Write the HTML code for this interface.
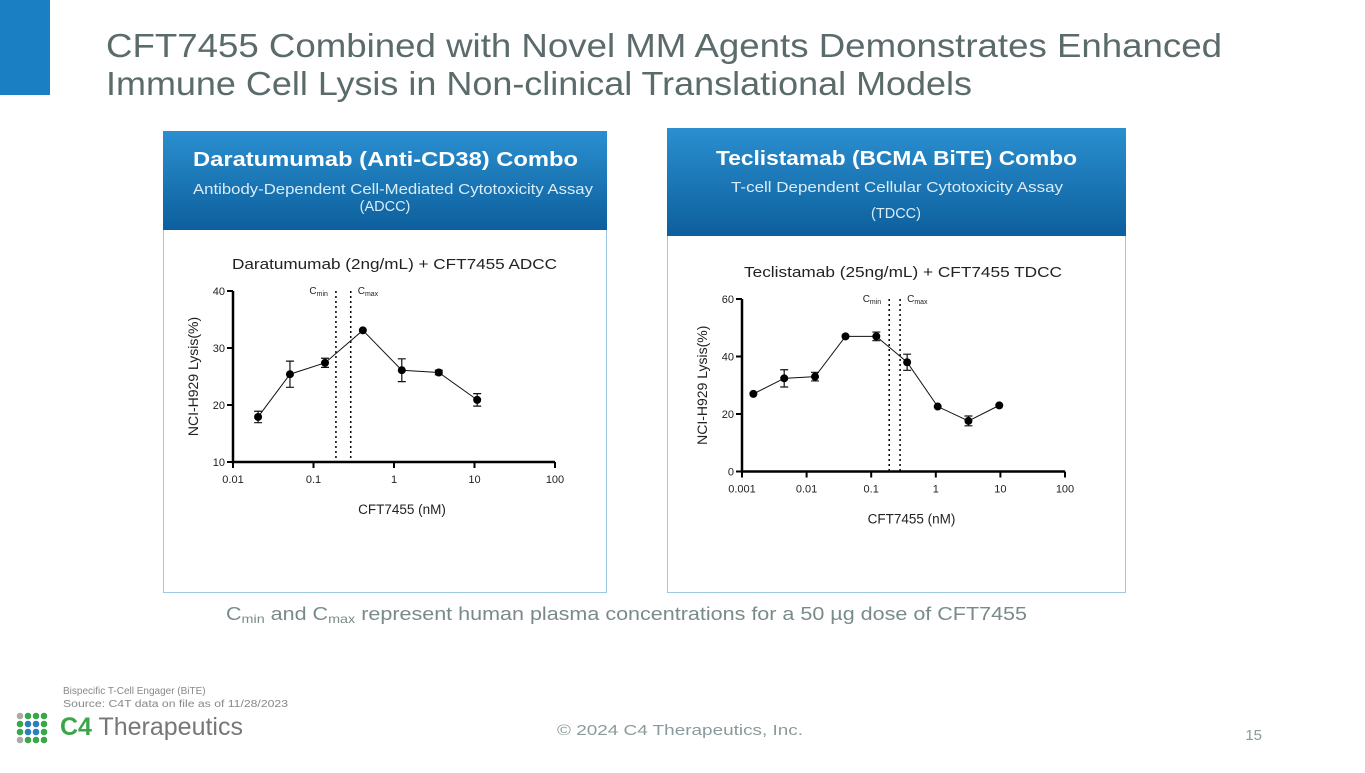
<!DOCTYPE html>
<html><head><meta charset="utf-8"><style>
body{margin:0;width:1365px;height:768px;overflow:hidden;background:#fff;font-family:"Liberation Sans",sans-serif;}
svg text{font-family:"Liberation Sans",sans-serif;}
</style></head><body>
<svg id="s" width="1365" height="768" xmlns="http://www.w3.org/2000/svg">
<defs>
<linearGradient id="hg" x1="0" y1="0" x2="0" y2="1"><stop offset="0" stop-color="#2a8fd0"/><stop offset="1" stop-color="#0d5f9c"/></linearGradient>
</defs>
<rect x="0" y="0" width="50" height="95" fill="#1b7fc4"/>
<text x="106" y="57" font-size="33" fill="#5b6b6b" textLength="1116" lengthAdjust="spacingAndGlyphs">CFT7455 Combined with Novel MM Agents Demonstrates Enhanced</text>
<text x="106" y="95" font-size="33" fill="#5b6b6b" textLength="866" lengthAdjust="spacingAndGlyphs">Immune Cell Lysis in Non-clinical Translational Models</text>

<g>
<rect x="163.5" y="131.5" width="443" height="461" fill="#fff" stroke="#9cc8e6"/>
<rect x="163" y="131" width="444" height="99" fill="url(#hg)"/>
<text x="193" y="166" font-size="20" font-weight="bold" fill="#fff" textLength="385" lengthAdjust="spacingAndGlyphs">Daratumumab (Anti-CD38) Combo</text>
<text x="193" y="194" font-size="14.5" fill="#d9ecf8" textLength="400" lengthAdjust="spacingAndGlyphs">Antibody-Dependent Cell-Mediated Cytotoxicity Assay</text>
<text x="385" y="211" font-size="14.5" fill="#d9ecf8" text-anchor="middle">(ADCC)</text>
</g>
<g>
<rect x="667.5" y="158.5" width="458" height="434" fill="#fff" stroke="#9cc8e6"/>
<rect x="667" y="128" width="459" height="108" fill="url(#hg)"/>
<text x="716" y="165" font-size="20" font-weight="bold" fill="#fff" textLength="361" lengthAdjust="spacingAndGlyphs">Teclistamab (BCMA BiTE) Combo</text>
<text x="731" y="192" font-size="14.5" fill="#d9ecf8" textLength="332" lengthAdjust="spacingAndGlyphs">T-cell Dependent Cellular Cytotoxicity Assay</text>
<text x="896" y="218" font-size="14.5" fill="#d9ecf8" text-anchor="middle">(TDCC)</text>
</g>

<g id="c1"></g>
<g id="c2"></g>

<text x="226" y="620" font-size="18" fill="#7a8a8a" textLength="801" lengthAdjust="spacingAndGlyphs">C<tspan font-size="12" dy="3">min</tspan><tspan dy="-3"> and C</tspan><tspan font-size="12" dy="3">max</tspan><tspan dy="-3"> represent human plasma concentrations for a 50 µg dose of CFT7455</tspan></text>
<text x="63" y="694" font-size="10" fill="#888">Bispecific T-Cell Engager (BiTE)</text>
<text x="63" y="707" font-size="10" fill="#888" textLength="225" lengthAdjust="spacingAndGlyphs">Source: C4T data on file as of 11/28/2023</text>
<g id="dots"></g>
<text x="60" y="735" font-size="25" fill="#777"><tspan fill="#3aa64a" font-weight="bold">C4</tspan> Therapeutics</text>
<text x="557" y="735" font-size="15" fill="#8a9a9a" textLength="246" lengthAdjust="spacingAndGlyphs">© 2024 C4 Therapeutics, Inc.</text>
<text x="1262" y="740" font-size="15" fill="#8a9a9a" text-anchor="end">15</text>
</svg>
<script>
const adccX=[0.0205,0.051,0.139,0.41,1.25,3.6,10.8];
const adccY=[17.9,25.4,27.4,33.1,26.1,25.7,20.9];
const adccErr=[1.0,2.3,0.8,0,2.0,0.4,1.1];
const adccXTicks=[0.01,0.1,1,10,100];
const adccYTicks=[10,20,30,40];
const adccC=[0.19,0.29];
const tdccX=[0.0015,0.0045,0.0135,0.04,0.12,0.36,1.07,3.2,9.6];
const tdccY=[27.0,32.4,33.0,47.0,47.0,38.0,22.6,17.6,23.0];
const tdccErr=[0,3,1.5,0,1.5,2.8,0,1.7,0];
const tdccXTicks=[0.001,0.01,0.1,1,10,100];
const tdccYTicks=[0,20,40,60];
const tdccC=[0.19,0.28];
const NS="http://www.w3.org/2000/svg";
function mk(p,t,a,txt){const e=document.createElementNS(NS,t);for(const k in a)e.setAttribute(k,a[k]);if(txt!==undefined)e.textContent=txt;p.appendChild(e);return e;}
function chart(id,o){
 const g=document.getElementById(id);
 const xs=v=>o.x0+(Math.log10(v)-Math.log10(o.xmin))/(Math.log10(o.xmax)-Math.log10(o.xmin))*(o.x1-o.x0);
 const ys=v=>o.yb-(v-o.ymin)/(o.ymax-o.ymin)*(o.yb-o.yt);
 let t=mk(g,'text',{x:o.tx,y:o.yt-22,'font-size':15,fill:'#222',textLength:o.tl,lengthAdjust:'spacingAndGlyphs'},o.title);
 
 
 let ax=mk(g,'path',{d:`M${o.x0},${o.yt}V${o.yb}H${o.x1}`,stroke:'#000','stroke-width':2.5,fill:'none'});
 
 
 o.yt_.forEach(v=>{const y=ys(v);mk(g,'line',{x1:o.x0-6,x2:o.x0,y1:y,y2:y,stroke:'#000','stroke-width':2});
  const l=mk(g,'text',{x:o.x0-8,y:y+4,'font-size':11,'text-anchor':'end',fill:'#222'},v);
  
  });
 o.xt.forEach(v=>{const x=xs(v);mk(g,'line',{x1:x,x2:x,y1:o.yb,y2:o.yb+6,stroke:'#000','stroke-width':2});
  const l=mk(g,'text',{x:x,y:o.yb+21,'font-size':11,'text-anchor':'middle',fill:'#222'},v);
  
  });
 let xl=mk(g,'text',{x:(o.x0+o.x1)/2+8,y:o.yb+52,'font-size':13.5,'text-anchor':'middle',fill:'#222'},'CFT7455 (nM)');
 
 
 const my=(o.yt+o.yb)/2;
 let yl=mk(g,'text',{x:o.x0-35,y:my,'font-size':14,'text-anchor':'middle',fill:'#222',transform:`rotate(-90 ${o.x0-35} ${my})`},'NCI-H929 Lysis(%)');
 
 
 o.c.forEach((v,i)=>{const x=xs(v);const l=mk(g,'line',{x1:x,x2:x,y1:o.yt,y2:o.yb,stroke:'#000','stroke-width':1.5,'stroke-dasharray':'2,3'});
  
  
  const tx=mk(g,'text',{x:i?x+7:x-8,y:o.yt+3,'font-size':10,'text-anchor':i?'start':'end',fill:'#222'});
  
  
  tx.innerHTML='C<tspan font-size="7" dy="2">'+(i?'max':'min')+'</tspan>';});
 let d=o.X.map((v,i)=>(i?'L':'M')+xs(v)+','+ys(o.Y[i])).join('');
 let ln=mk(g,'path',{d:d,stroke:'#111','stroke-width':1,fill:'none'});
 
 
 o.X.forEach((v,i)=>{const x=xs(v),y=ys(o.Y[i]);const e=o.E[i];
  if(e>0){const a=ys(o.Y[i]+e),b=ys(o.Y[i]-e);const eb=mk(g,'path',{d:`M${x},${a}V${b}M${x-4},${a}H${x+4}M${x-4},${b}H${x+4}`,stroke:'#111','stroke-width':1.2,fill:'none'});
   
   }
  const c=mk(g,'circle',{cx:x,cy:y,r:4,fill:'#000'});
  
  });
}
chart('c1',{x0:233,x1:555,xmin:0.01,xmax:100,yt:291,yb:462,ymin:10,ymax:40,X:adccX,Y:adccY,E:adccErr,xt:adccXTicks,yt_:adccYTicks,c:adccC,title:'Daratumumab (2ng/mL) + CFT7455 ADCC',tx:232,tl:325});
chart('c2',{x0:742,x1:1065,xmin:0.001,xmax:100,yt:299,yb:471.5,ymin:0,ymax:60,X:tdccX,Y:tdccY,E:tdccErr,xt:tdccXTicks,yt_:tdccYTicks,c:tdccC,title:'Teclistamab (25ng/mL) + CFT7455 TDCC',tx:744,tl:318});
const dg=document.getElementById('dots');
const cols=[['#aaa','#3aa64a','#3aa64a','#3aa64a'],['#3aa64a','#2a7fc0','#2a7fc0','#3aa64a'],['#3aa64a','#2a7fc0','#2a7fc0','#3aa64a'],['#aaa','#3aa64a','#3aa64a','#3aa64a']];
cols.forEach((r,i)=>r.forEach((c,j)=>{mk(dg,'circle',{cx:20+j*8,cy:716+i*8,r:3.3,fill:c});}));
</script>
</body></html>
